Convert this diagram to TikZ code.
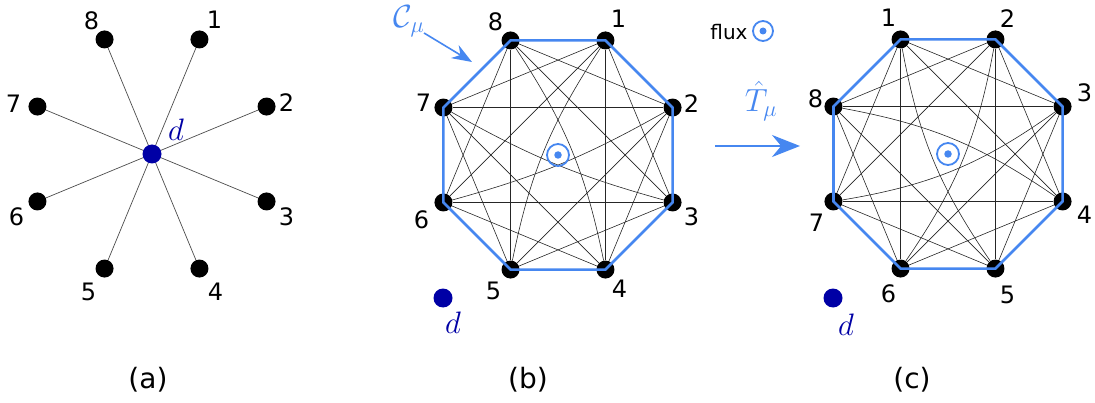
\RequirePackage{fix-cm}
\documentclass[tikz,border=0pt]{standalone}
\usepackage{fontspec}
\newfontfamily\djv{DejaVu Sans}
\usetikzlibrary{arrows.meta,calc}
\definecolor{fblue}{RGB}{70,135,240}
\definecolor{dblue}{RGB}{0,0,165}
\tikzset{
  vtx/.style={circle,fill=black,inner sep=0pt,minimum size=18pt},
  dvtx/.style={circle,fill=dblue,inner sep=0pt,minimum size=19pt},
  num/.style={font=\djv\fontsize{24}{28}\selectfont,inner sep=0pt},
  caption/.style={font=\djv\fontsize{28}{32}\selectfont,inner sep=0pt},
  dlab/.style={text=dblue,font=\fontsize{31}{35}\selectfont,inner sep=0pt},
  blab/.style={text=fblue,font=\fontsize{32}{36}\selectfont,inner sep=0pt},
  edge/.style={draw=black!85,line width=0.6pt},
  spoke/.style={draw=black!70,line width=0.7pt},
  ring/.style={draw=fblue,line width=2.6pt,line join=miter},
  fluxring/.style={circle,draw=fblue,line width=1.8pt,minimum size=22pt,inner sep=0pt},
  fluxdot/.style={circle,fill=fblue,minimum size=7.5pt,inner sep=0pt},
  bluearrow/.style={draw=fblue,line width=1.6pt},
}
\begin{document}
\begin{tikzpicture}[x=1pt,y=1pt]
\useasboundingbox (0,0) rectangle (1095,402);
% ---------- (a)
\coordinate (ca) at (152,248);
\foreach \i/\ang in {1/67.5,2/22.5,3/-22.5,4/-67.5,5/-112.5,6/-157.5,7/157.5,8/112.5}
  \node[vtx] (a\i) at ($(ca)+(\ang:124pt)$) {};
\node[dvtx] (ad) at (ca) {};
\foreach \i in {1,...,8} \draw[spoke] (ad) -- (a\i);
\foreach \i/\ox/\oy in {1/15/20,2/20/4,3/20/-15,4/16/-23,5/-16/-23,6/-21/-15,7/-24/3,8/-13/19}
  \node[num] (la\i) at ($(a\i)+(\ox,\oy)$) {\i};
\node[dlab] (lad) at (176,272) {$d$};
\node[caption] (capa) at (148,22) {(a)};
% ---------- (b)
\coordinate (cb) at (558,247);
\foreach \i/\ang in {1/67.5,2/22.5,3/-22.5,4/-67.5,5/-112.5,6/-157.5,7/157.5,8/112.5}
  \node[vtx] (b\i) at ($(cb)+(\ang:124pt)$) {};
\foreach \i in {1,...,7}{
  \pgfmathtruncatemacro\s{\i+1}
  \foreach \j in {\s,...,8}{
    \ifnum\numexpr\j-\i\relax=4 \else \draw[edge] (b\i) -- (b\j); \fi
  }
}
\draw[edge] (b8) to[bend left=11] (b4);
\draw[edge] (b1) to[bend right=11] (b5);
\draw[edge] (b7) to[bend right=7] (b3);
\draw[edge] (b6) to[bend right=7] (b2);
\draw[ring] (b1.center) -- (b2.center) -- (b3.center) -- (b4.center) -- (b5.center) -- (b6.center) -- (b7.center) -- (b8.center) -- cycle;
\node[fluxring] (fb) at (cb) {};
\node[fluxdot] (fbd) at (cb) {};
\foreach \i/\ox/\oy in {1/13/22,2/19/4,3/19/-14,4/14/-19,5/-17/-21,6/-22/-17,7/-20/5,8/-15/19}
  \node[num] (lb\i) at ($(b\i)+(\ox,\oy)$) {\i};
\node[dvtx] (bd) at (443,104) {};
\node[dlab] (lbd) at (453,79) {$d$};
\node[blab] (cmu) at (409,381) {$\mathcal{C}_\mu$};
\coordinate (cmus) at (424,369);
\coordinate (cmue) at (472,340);
\draw[bluearrow,-{Stealth[length=20pt,width=15pt]}] (cmus) -- (cmue);
\node[caption] (capb) at (528,22) {(b)};
% ---------- middle
\node[font=\djv\fontsize{20}{24}\selectfont,inner sep=0pt] (fluxt) at (729,370) {flux};
\node[fluxring,minimum size=20pt] (fl) at (763,371) {};
\node[fluxdot,minimum size=7pt] (fld) at (763,371) {};
\node[blab] (tmu) at (761,301) {$\hat{T}_\mu$};
\coordinate (ts) at (715,256);
\coordinate (te) at (800,256);
\draw[bluearrow,line width=2pt,-{Stealth[length=28pt,width=22pt]}] (ts) -- (te);
% ---------- (c)
\coordinate (cc) at (948,248);
\foreach \i/\ang in {1/112.5,2/67.5,3/22.5,4/-22.5,5/-67.5,6/-112.5,7/-157.5,8/157.5}
  \node[vtx] (c\i) at ($(cc)+(\ang:124pt)$) {};
\foreach \i in {1,...,7}{
  \pgfmathtruncatemacro\s{\i+1}
  \foreach \j in {\s,...,8}{
    \ifnum\numexpr\j-\i\relax=4 \else \draw[edge] (c\i) -- (c\j); \fi
  }
}
\draw[edge] (c8) to[bend left=12] (c4);
\draw[edge] (c7) to[bend right=13] (c3);
\draw[edge] (c1) to[bend right=12] (c5);
\draw[edge] (c2) to[bend left=12] (c6);
\draw[ring] (c1.center) -- (c2.center) -- (c3.center) -- (c4.center) -- (c5.center) -- (c6.center) -- (c7.center) -- (c8.center) -- cycle;
\node[fluxring] (fc) at (cc) {};
\node[fluxdot] (fcd) at (cc) {};
\foreach \i/\ox/\oy in {1/-12/22,2/12/21,3/22/14,4/22/-13,5/12/-26,6/-12/-25,7/-17/-21,8/-18/8}
  \node[num] (lc\i) at ($(c\i)+(\ox,\oy)$) {\i};
\node[dvtx] (cdd) at (833,104) {};
\node[dlab] (lcd) at (846,77) {$d$};
\node[caption] (capc) at (912,22) {(c)};
\end{tikzpicture}
\end{document}
